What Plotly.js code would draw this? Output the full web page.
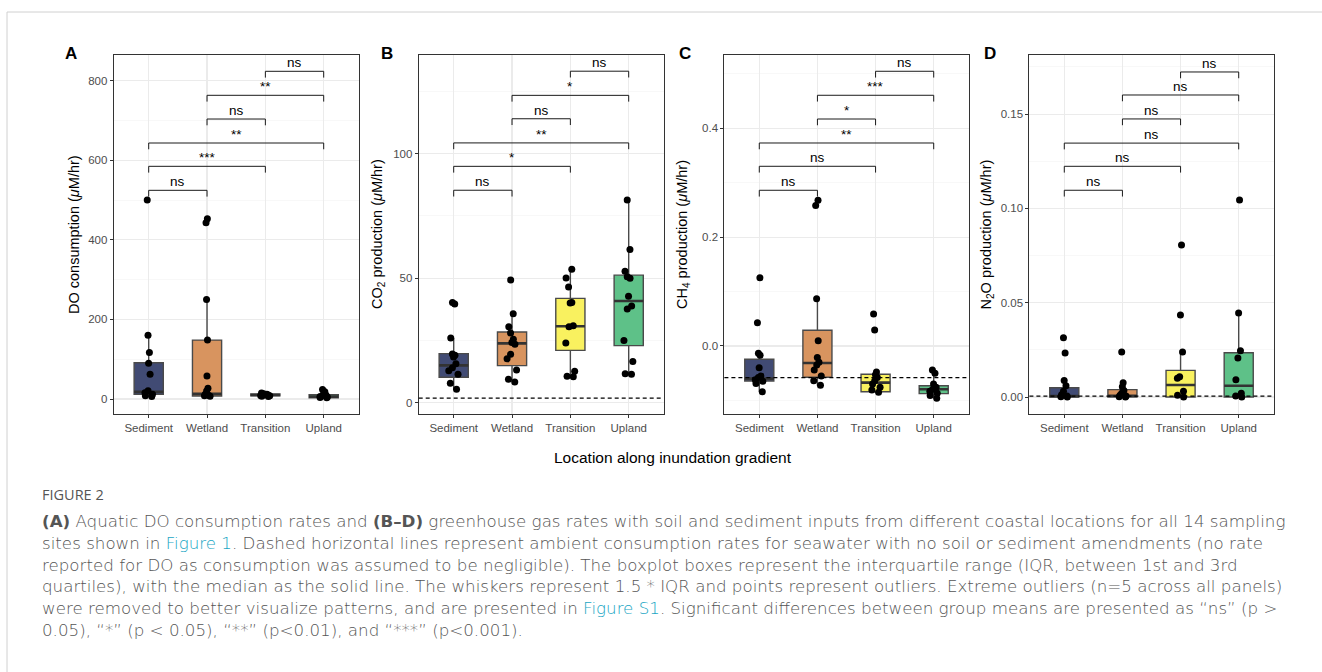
<!DOCTYPE html>
<html>
<head>
<meta charset="utf-8">
<script src="https://cdn.plot.ly/plotly-3.0.1.min.js"></script>
<style>html,body{margin:0;padding:0;background:#fff;}#chart{width:1322px;height:672px;}</style>
</head>
<body>
<div id="chart"></div>
<script>
// ---------------- DATA ----------------
const categories = ['Sediment', 'Wetland', 'Transition', 'Upland'];

// Panel A: DO consumption (points)
const doSediment   = [500, 160, 117, 90, 62, 21, 16, 12, 8, 6];
const doWetland    = [453, 443, 250, 148, 58, 27, 20, 12, 9, 8, 7];
const doTransition = [15, 13, 12, 11, 10, 10, 9, 8, 7, 6];
const doUpland     = [24, 18, 12, 10, 8, 6, 5, 4, 3];
// Panel A box statistics (per category)
const doQ1     = [11.7, 7.5, 8, 3.3];
const doMedian = [18, 13, 10, 6];
const doQ3     = [91, 148, 12.5, 10.8];
const doLower  = [5, 7, 6, 2];
const doUpper  = [160, 250, 15, 22];
const doBracketY = [524.5, 584.8, 643.4, 703.7, 763.3, 823.6];
const doLabels   = ['ns', '***', '**', 'ns', '**', 'ns'];

// Panel B: CO2 production
const co2Sediment   = [40.2, 39.6, 26, 19.6, 19, 18.3, 15.6, 14, 12.8, 11.4, 7.8, 5.4];
const co2Wetland    = [49.3, 35.7, 30.5, 28, 25.5, 24.2, 23.5, 19.4, 17.6, 13.1, 9.4, 8.3];
const co2Transition = [53.6, 50.1, 46.5, 40.2, 40.0, 30.9, 30.5, 24.0, 12.6, 10.6, 10.4];
const co2Upland     = [81.4, 61.5, 52.8, 50.6, 50.0, 42.7, 38.8, 37.6, 25.0, 16.5, 11.6, 11.4];
const co2Q1     = [10.2, 14.9, 21.0, 22.9];
const co2Median = [15.0, 23.8, 30.7, 40.8];
const co2Q3     = [19.7, 28.4, 41.9, 51.2];
const co2Lower  = [5.4, 8.3, 10.4, 11.4];
const co2Upper  = [26, 35.7, 53.6, 81.4];
const co2BracketY = [85.3, 94.9, 104.3, 114.0, 123.4, 133.1];
const co2Labels   = ['ns', '*', '**', 'ns', '*', 'ns'];
const co2Ambient  = 1.8;

// Panel C: CH4 production
const ch4Sediment   = [0.1256, 0.0429, -0.0135, -0.017, -0.040, -0.055, -0.058, -0.062, -0.065, -0.069, -0.084];
const ch4Wetland    = [0.268, 0.258, 0.087, 0.0098, -0.021, -0.030, -0.035, -0.044, -0.055, -0.064, -0.072];
const ch4Transition = [0.0588, 0.0294, -0.048, -0.053, -0.058, -0.064, -0.070, -0.076, -0.081, -0.085];
const ch4Upland     = [-0.044, -0.050, -0.070, -0.076, -0.080, -0.083, -0.087, -0.091, -0.096];
const ch4Q1     = [-0.0643, -0.0576, -0.084, -0.0876];
const ch4Median = [-0.060, -0.0312, -0.0674, -0.0796];
const ch4Q3     = [-0.0245, 0.0288, -0.052, -0.073];
const ch4Lower  = [-0.084, -0.072, -0.085, -0.096];
const ch4Upper  = [-0.0135, 0.087, -0.048, -0.050];
const ch4BracketY = [0.2861, 0.3302, 0.3730, 0.4171, 0.4607, 0.5048];
const ch4Labels   = ['ns', 'ns', '**', '*', '***', 'ns'];
const ch4Ambient  = -0.0582;

// Panel D: N2O production
const n2oSediment   = [0.0314, 0.0233, 0.0088, 0.0060, 0.0030, 0.0012, 0.0005, 0.0002, 0.0];
const n2oWetland    = [0.0239, 0.0076, 0.0055, 0.0035, 0.002, 0.001, 0.0005, 0.0002, 0.0];
const n2oTransition = [0.0806, 0.0435, 0.0239, 0.0108, 0.0100, 0.0030, 0.0010, 0.0];
const n2oUpland     = [0.1044, 0.0445, 0.0245, 0.0207, 0.0092, 0.002, 0.0005, 0.0];
const n2oQ1     = [0.0, 0.0, 0.0, 0.0];
const n2oMedian = [0.0005, 0.0007, 0.0064, 0.0060];
const n2oQ3     = [0.0049, 0.0039, 0.0141, 0.0235];
const n2oLower  = [0.0, 0.0, 0.0, 0.0];
const n2oUpper  = [0.0088, 0.0076, 0.0239, 0.0445];
const n2oBracketY = [0.1096, 0.1223, 0.1346, 0.1474, 0.1601, 0.1723];
const n2oLabels   = ['ns', 'ns', 'ns', 'ns', 'ns', 'ns'];
const n2oAmbient  = 0.0005;

const bracketPairs = [[0, 1], [0, 2], [0, 3], [1, 2], [1, 3], [2, 3]];

const panelLetters = ['A', 'B', 'C', 'D'];
const yTitles = [
  'DO consumption (<i>μ</i>M/hr)',
  'CO<sub>2</sub> production (<i>μ</i>M/hr)',
  'CH<sub>4</sub> production (<i>μ</i>M/hr)',
  'N<sub>2</sub>O production (<i>μ</i>M/hr)'
];
const xTitle = 'Location along inundation gradient';

const captionHead = 'FIGURE 2';
const captionLines = [
  '<b>(A)</b> Aquatic DO consumption rates and <b>(B–D)</b> greenhouse gas rates with soil and sediment inputs from different coastal locations for all 14 sampling',
  'sites shown in <span style="color:#1aa6c4">Figure 1</span>. Dashed horizontal lines represent ambient consumption rates for seawater with no soil or sediment amendments (no rate',
  'reported for DO as consumption was assumed to be negligible). The boxplot boxes represent the interquartile range (IQR, between 1st and 3rd',
  'quartiles), with the median as the solid line. The whiskers represent 1.5 * IQR and points represent outliers. Extreme outliers (n=5 across all panels)',
  'were removed to better visualize patterns, and are presented in <span style="color:#1aa6c4">Figure S1</span>. Significant differences between group means are presented as “ns” (p >',
  '0.05), “*” (p < 0.05), “**” (p<0.01), and “***” (p<0.001).'
];

// ---------------- STYLE / LAYOUT ----------------
const W = 1322, H = 672;
const fx = x => x / W;
const fy = y => 1 - y / H;
const FONT = 'Liberation Sans, Arial, Helvetica, sans-serif';
const CAPFONT = 'DejaVu Sans, Open Sans, sans-serif';
const fills = ['#414b74', '#d8945f', '#f9f15f', '#5ec188'];

const panels = [
  {pts: [doSediment, doWetland, doTransition, doUpland], q1: doQ1, med: doMedian, q3: doQ3, lo: doLower, hi: doUpper,
   by: doBracketY, bl: doLabels, amb: null, range: [-37.7, 864.6], dtick: 200, minor: 100, fmt: '', xpx: [113.7, 358.7], tx: 74.5, lx: 70.5},
  {pts: [co2Sediment, co2Wetland, co2Transition, co2Upland], q1: co2Q1, med: co2Median, q3: co2Q3, lo: co2Lower, hi: co2Upper,
   by: co2BracketY, bl: co2Labels, amb: co2Ambient, range: [-4.54, 139.6], dtick: 50, minor: 25, fmt: '', xpx: [418.7, 663.7], tx: 378.5, lx: 387},
  {pts: [ch4Sediment, ch4Wetland, ch4Transition, ch4Upland], q1: ch4Q1, med: ch4Median, q3: ch4Q3, lo: ch4Lower, hi: ch4Upper,
   by: ch4BracketY, bl: ch4Labels, amb: ch4Ambient, range: [-0.125, 0.5347], dtick: 0.2, minor: 0.1, fmt: '.1f', xpx: [724.4, 968.6], tx: 683.5, lx: 685},
  {pts: [n2oSediment, n2oWetland, n2oTransition, n2oUpland], q1: n2oQ1, med: n2oMedian, q3: n2oQ3, lo: n2oLower, hi: n2oUpper,
   by: n2oBracketY, bl: n2oLabels, amb: n2oAmbient, range: [-0.0090, 0.1813], dtick: 0.05, minor: 0.025, fmt: '.2f', xpx: [1029.4, 1273.6], tx: 987, lx: 990}
];

const plotTop = 55, plotBottom = 414;
const traces = [];
const shapes = [];
const annotations = [];
const layout = {
  width: W, height: H, margin: {l: 0, r: 0, t: 0, b: 0},
  paper_bgcolor: '#ffffff', plot_bgcolor: '#ffffff', showlegend: false,
  boxmode: 'overlay', font: {family: FONT, color: '#000'}
};

panels.forEach((p, i) => {
  const sfx = i === 0 ? '' : String(i + 1);
  const xa = 'x' + sfx, ya = 'y' + sfx;
  layout['xaxis' + sfx] = {
    domain: [fx(p.xpx[0]), fx(p.xpx[1])], anchor: ya, type: 'category',
    categoryorder: 'array', categoryarray: categories, range: [-0.6, 3.6],
    showline: true, mirror: true, linecolor: '#333333', linewidth: 1,
    ticks: 'outside', ticklen: 3, tickwidth: 1, tickcolor: '#333333',
    tickfont: {family: FONT, size: 11.5, color: '#4d4d4d'},
    showgrid: true, gridcolor: '#ebebeb', gridwidth: 1.1, zeroline: false, fixedrange: true
  };
  const yax = {
    domain: [fy(plotBottom), fy(plotTop)], anchor: xa, range: p.range,
    tick0: 0, dtick: p.dtick,
    showline: true, mirror: true, linecolor: '#333333', linewidth: 1,
    ticks: 'outside', ticklen: 3, tickwidth: 1, tickcolor: '#333333',
    tickfont: {family: FONT, size: 11.5, color: '#4d4d4d'},
    showgrid: true, gridcolor: '#ebebeb', gridwidth: 1.1, zeroline: false,
    minor: {tick0: 0, dtick: p.minor, showgrid: true, gridcolor: '#f3f3f3', gridwidth: 0.6, ticks: ''},
    fixedrange: true
  };
  if (p.fmt) yax.tickformat = p.fmt;
  layout['yaxis' + sfx] = yax;

  categories.forEach((c, k) => {
    // box with precomputed statistics
    traces.push({
      type: 'box', xaxis: xa, yaxis: ya, x: [c],
      q1: [p.q1[k]], median: [p.med[k]], q3: [p.q3[k]],
      lowerfence: [p.lo[k]], upperfence: [p.hi[k]],
      width: 0.5, whiskerwidth: 0, boxpoints: false,
      fillcolor: fills[k], line: {color: '#4a4a4a', width: 1.4}, hoverinfo: 'skip'
    });
    // thicker median bar
    traces.push({
      type: 'box', xaxis: xa, yaxis: ya, x: [c],
      q1: [p.med[k]], median: [p.med[k]], q3: [p.med[k]],
      lowerfence: [p.med[k]], upperfence: [p.med[k]],
      width: 0.5, whiskerwidth: 0, boxpoints: false,
      fillcolor: 'rgba(0,0,0,0)', line: {color: '#333333', width: 2.6}, hoverinfo: 'skip'
    });
  });
  categories.forEach((c, k) => {
    // jittered points
    traces.push({
      type: 'box', xaxis: xa, yaxis: ya,
      x: p.pts[k].map(() => c), y: p.pts[k],
      width: 0.5, boxpoints: 'all', jitter: 0.4, pointpos: 0,
      fillcolor: 'rgba(0,0,0,0)', line: {color: 'rgba(0,0,0,0)', width: 0},
      marker: {color: '#000000', size: 7, line: {width: 0}}, hoverinfo: 'y'
    });
  });

  // ambient dashed line
  if (p.amb !== null) {
    shapes.push({type: 'line', xref: xa + ' domain', yref: ya, x0: 0, x1: 1, y0: p.amb, y1: p.amb,
      line: {color: '#000000', width: 1.2, dash: '4px,3px'}});
  }

  // significance brackets
  const tip = 0.0175 * (p.range[1] - p.range[0]);
  bracketPairs.forEach((pr, b) => {
    const y = p.by[b];
    const ln = {color: '#1a1a1a', width: 1};
    shapes.push({type: 'line', xref: xa, yref: ya, x0: pr[0], x1: pr[1], y0: y, y1: y, line: ln});
    shapes.push({type: 'line', xref: xa, yref: ya, x0: pr[0], x1: pr[0], y0: y, y1: y - tip, line: ln});
    shapes.push({type: 'line', xref: xa, yref: ya, x0: pr[1], x1: pr[1], y0: y, y1: y - tip, line: ln});
    annotations.push({xref: xa, yref: ya, x: (pr[0] + pr[1]) / 2, y: y, text: p.bl[b],
      showarrow: false, xanchor: 'center', yanchor: 'bottom', yshift: -1,
      font: {family: FONT, size: 13.5, color: '#000'}});
  });

  // y title
  annotations.push({xref: 'paper', yref: 'paper', x: fx(p.tx), y: fy((plotTop + plotBottom) / 2),
    text: yTitles[i], textangle: -90, showarrow: false, xanchor: 'center', yanchor: 'middle',
    font: {family: FONT, size: 14.5, color: '#000'}});
  // panel letter
  annotations.push({xref: 'paper', yref: 'paper', x: fx(p.lx), y: fy(53.5), text: '<b>' + panelLetters[i] + '</b>',
    showarrow: false, xanchor: 'center', yanchor: 'middle', font: {family: FONT, size: 17, color: '#000'}});
});

// x title
annotations.push({xref: 'paper', yref: 'paper', x: fx(673), y: fy(457), text: xTitle, showarrow: false,
  xanchor: 'center', yanchor: 'middle', font: {family: FONT, size: 15.5, color: '#000'}});

// caption
annotations.push({xref: 'paper', yref: 'paper', x: fx(40), y: fy(494), text: captionHead, showarrow: false,
  xanchor: 'left', yanchor: 'middle', font: {family: 'Open Sans, sans-serif', size: 14.5, color: '#555555'}});
const capY = [521, 542.8, 564.6, 586.4, 608.2, 630];
captionLines.forEach((t, j) => {
  annotations.push({xref: 'paper', yref: 'paper', x: fx(40), y: fy(capY[j]), text: t, showarrow: false,
    xanchor: 'left', yanchor: 'middle',
    font: {family: CAPFONT, size: 16.7, color: '#555555', weight: 300}});
});

// page frame lines
shapes.push({type: 'line', xref: 'paper', yref: 'paper', x0: fx(7), x1: 1, y0: fy(12), y1: fy(12), line: {color: '#d0d0d0', width: 1}});
shapes.push({type: 'line', xref: 'paper', yref: 'paper', x0: fx(7), x1: fx(7), y0: fy(12), y1: 0, line: {color: '#d0d0d0', width: 1}});

layout.shapes = shapes;
layout.annotations = annotations;

Plotly.newPlot('chart', traces, layout, {displayModeBar: false, staticPlot: true});
</script>
</body>
</html>
